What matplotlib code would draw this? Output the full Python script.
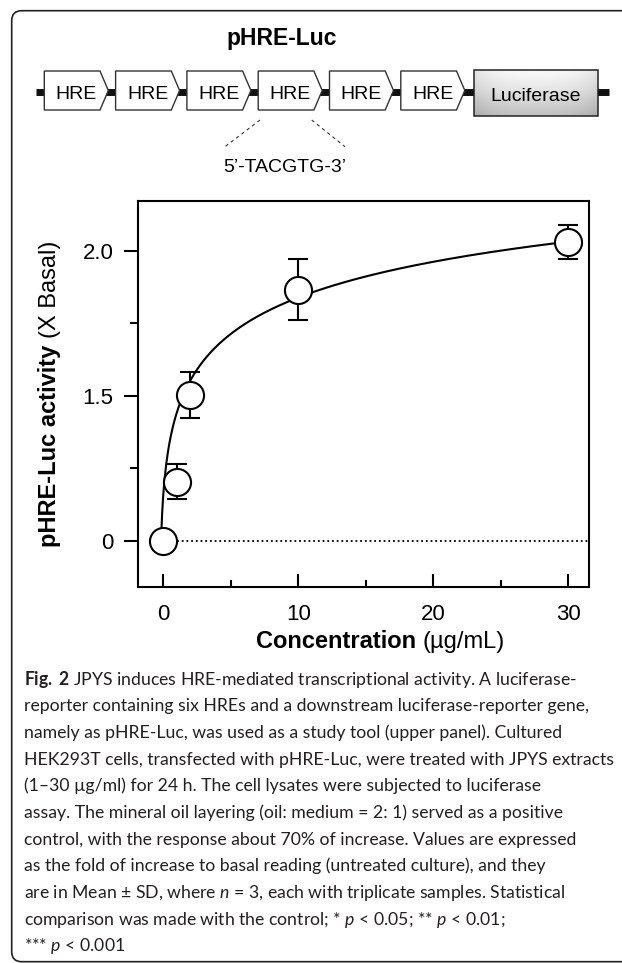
import numpy as np
import matplotlib.pyplot as plt
from matplotlib.patches import Polygon, Rectangle, FancyBboxPatch

CAP_FONT = 'Lato'
plt.rcParams['font.family'] = ['Liberation Sans', 'DejaVu Sans']
plt.rcParams['mathtext.fontset'] = 'custom'
plt.rcParams['mathtext.rm'] = CAP_FONT
plt.rcParams['mathtext.it'] = CAP_FONT + ':italic'
plt.rcParams['mathtext.bf'] = CAP_FONT + ':bold'

# measured points (fold of basal, basal = 1)
conc = [0, 1, 2, 10, 30]
activity = [1.0, 1.204, 1.503, 1.866, 2.031]
sd = [0.0, 0.06, 0.078, 0.105, 0.06]

# fitted curve as drawn in the figure
fit_x = [-0.15, 0.0, 0.15, 0.4, 0.75, 1.25, 1.8, 2.7, 3.6, 5.2, 7.6, 10, 13, 16.3, 21.2, 25.7, 30]
fit_y = [1.03, 1.15, 1.24, 1.335, 1.405, 1.468, 1.53, 1.612, 1.66, 1.716, 1.79, 1.835, 1.885, 1.929, 1.975, 2.006, 2.032]

x_ticks = [0, 10, 20, 30]
x_minor = [5, 15, 25]
y_ticks = [1.0, 1.5, 2.0]
y_ticklabels = ['0', '1.5', '2.0']
y_minor = [1.25, 1.75]

construct = ['HRE'] * 6 + ['Luciferase']
motif = '5’-TACGTG-3’'

caption = [
    r'$\mathbf{Fig.\;2}$ JPYS induces HRE-mediated transcriptional activity. A luciferase-',
    'reporter containing six HREs and a downstream luciferase-reporter gene,',
    'namely as pHRE-Luc, was used as a study tool (upper panel). Cultured',
    'HEK293T cells, transfected with pHRE-Luc, were treated with JPYS extracts',
    '(1–30 µg/ml) for 24 h. The cell lysates were subjected to luciferase',
    'assay. The mineral oil layering (oil: medium = 2: 1) served as a positive',
    'control, with the response about 70% of increase. Values are expressed',
    'as the fold of increase to basal reading (untreated culture), and they',
    r'are in Mean ± SD, where $n$ = 3, each with triplicate samples. Statistical',
    r'comparison was made with the control; * $p$ < 0.05; ** $p$ < 0.01;',
    r'*** $p$ < 0.001',
]

W, H = 622, 963
fig = plt.figure(figsize=(W / 100, H / 100), dpi=100)

# background axes in pixel units for the schematic, frame and caption
bg = fig.add_axes([0, 0, 1, 1])
bg.axis('off')

bg.add_patch(FancyBboxPatch((11.7, 10.7), 660, 951, boxstyle='round,pad=0,rounding_size=10',
                            fc='none', ec='#222222', lw=1.2))

# construct schematic
bg.plot([36, 609.3], [92.5, 92.5], color='#111111', lw=5, solid_capstyle='butt', zorder=1)
left, pitch, bw = 44.3, 71.3, 64
for i, name in enumerate(construct):
    if name == 'HRE':
        L = left + i * pitch
        T = L + bw
        S = T - 8.3
        bg.add_patch(Polygon([(L, 71), (S, 71), (T, 90.5), (S, 110), (L, 110)],
                             closed=True, fc='white', ec='#333333', lw=1, zorder=2))
        bg.text((L + T) / 2, 98.6, name, fontsize=14, ha='center', va='baseline', zorder=3)
    else:
        L, R, top, bot = 474.3, 597.7, 70, 116
        v = np.linspace(0, 1, 60)[:, None]
        u = np.linspace(-1, 1, 120)[None, :]
        grad = 0.97 - 0.22 * v ** 1.3 - 0.08 * np.abs(u) ** 3
        bg.imshow(grad, cmap='gray', vmin=0, vmax=1, extent=[L, R, bot, top],
                  origin='upper', aspect='auto', zorder=2, interpolation='bilinear')
        bg.add_patch(Rectangle((L, top), R - L, bot - top, fc='none', ec='#222222', lw=1.1, zorder=3))
        bg.text((L + R) / 2, 100.8, name, fontsize=14, ha='center', va='baseline', zorder=4)

bg.set_xlim(0, W)
bg.set_ylim(H, 0)

bg.plot([260, 225], [120, 146.7], color='#333333', lw=0.8, ls=(0, (3, 3)))
bg.plot([311.7, 345], [120, 146.7], color='#333333', lw=0.8, ls=(0, (3, 3)))
bg.text(285, 171.5, motif, fontsize=14, ha='center', va='baseline')
bg.text(282, 44.5, 'pHRE-Luc', fontsize=16.5, fontweight='bold', ha='center', va='baseline')

# main chart
ax = fig.add_axes([137.7 / W, 1 - 586.7 / H, (589.3 - 137.7) / W, (586.7 - 201) / H])
ax.set_facecolor('none')
ax.set_xlim(-1.9, 31.56)
ax.set_ylim(0.841, 2.1726)

# smooth least-squares curve through the read-off fit points
coef = np.polyfit(np.log(np.array(fit_x) + 0.25), fit_y, 3)
xs = np.linspace(fit_x[0], fit_x[-1], 500)
ys = np.polyval(coef, np.log(xs + 0.25))

ax.hlines(1.0, 0, 31.56, colors='k', linestyles=(0, (1, 1.6)), lw=1.3, zorder=1)
ax.plot(xs, ys, color='k', lw=1.5, zorder=2)
ax.errorbar(conc, activity, yerr=sd, fmt='none', ecolor='k', elinewidth=1.5,
            capsize=7.2, capthick=1.5, zorder=3)
ax.plot(conc, activity, 'o', ms=19.5, mfc='white', mec='k', mew=1.5, zorder=4)

for s in ax.spines.values():
    s.set_linewidth(1.5)

ax.set_xticks(x_ticks)
ax.set_xticks(x_minor, minor=True)
ax.set_yticks(y_ticks)
ax.set_yticklabels(y_ticklabels)
ax.set_yticks(y_minor, minor=True)
ax.tick_params(axis='x', which='both', direction='in', width=1.5, labelsize=16, pad=12.5)
ax.tick_params(axis='x', which='major', length=9.7)
ax.tick_params(axis='x', which='minor', length=4.8)
ax.tick_params(axis='y', which='both', direction='out', width=1.5, labelsize=16, pad=7.4)
ax.tick_params(axis='y', which='major', length=10)
ax.tick_params(axis='y', which='minor', length=5.5)

renderer = fig.canvas.get_renderer()


def pieces_label(x, y, pieces, size, vertical=False):
    # bold part followed by regular part, centred on (x, y)
    rot = 90 if vertical else 0
    texts, lengths = [], []
    for s, w in pieces:
        t = bg.text(0, 0, s, fontsize=size, fontweight=w, rotation=rot,
                    rotation_mode='anchor', ha='left', va='baseline')
        bb = t.get_window_extent(renderer)
        texts.append(t)
        lengths.append(bb.height if vertical else bb.width)
    gap = 0.278 * size * 100 / 72
    total = sum(lengths) + gap * (len(pieces) - 1)
    pos = (y + total / 2) if vertical else (x - total / 2)
    for t, ln in zip(texts, lengths):
        if vertical:
            t.set_position((x, pos))
            pos -= ln + gap
        else:
            t.set_position((pos, y))
            pos += ln + gap


pieces_label(56, 393.5, [('pHRE-Luc activity', 'bold'), ('(X Basal)', 'normal')], 17, vertical=True)
pieces_label(380, 648, [('Concentration', 'bold'), ('(µg/mL)', 'normal')], 17)

# caption, sized so that the widest line fits the reference text width
widest = 0
for line in caption:
    probe = bg.text(0, 0, line, fontsize=10, family=CAP_FONT)
    widest = max(widest, probe.get_window_extent(renderer).width)
    probe.remove()
cap_size = 10 * 590 / widest
for k, line in enumerate(caption):
    bg.text(24, 684.5 + 26.7 * k, line, fontsize=cap_size, family=CAP_FONT,
            color='#231f20', ha='left', va='baseline')

fig.savefig('out.png', dpi=100)
